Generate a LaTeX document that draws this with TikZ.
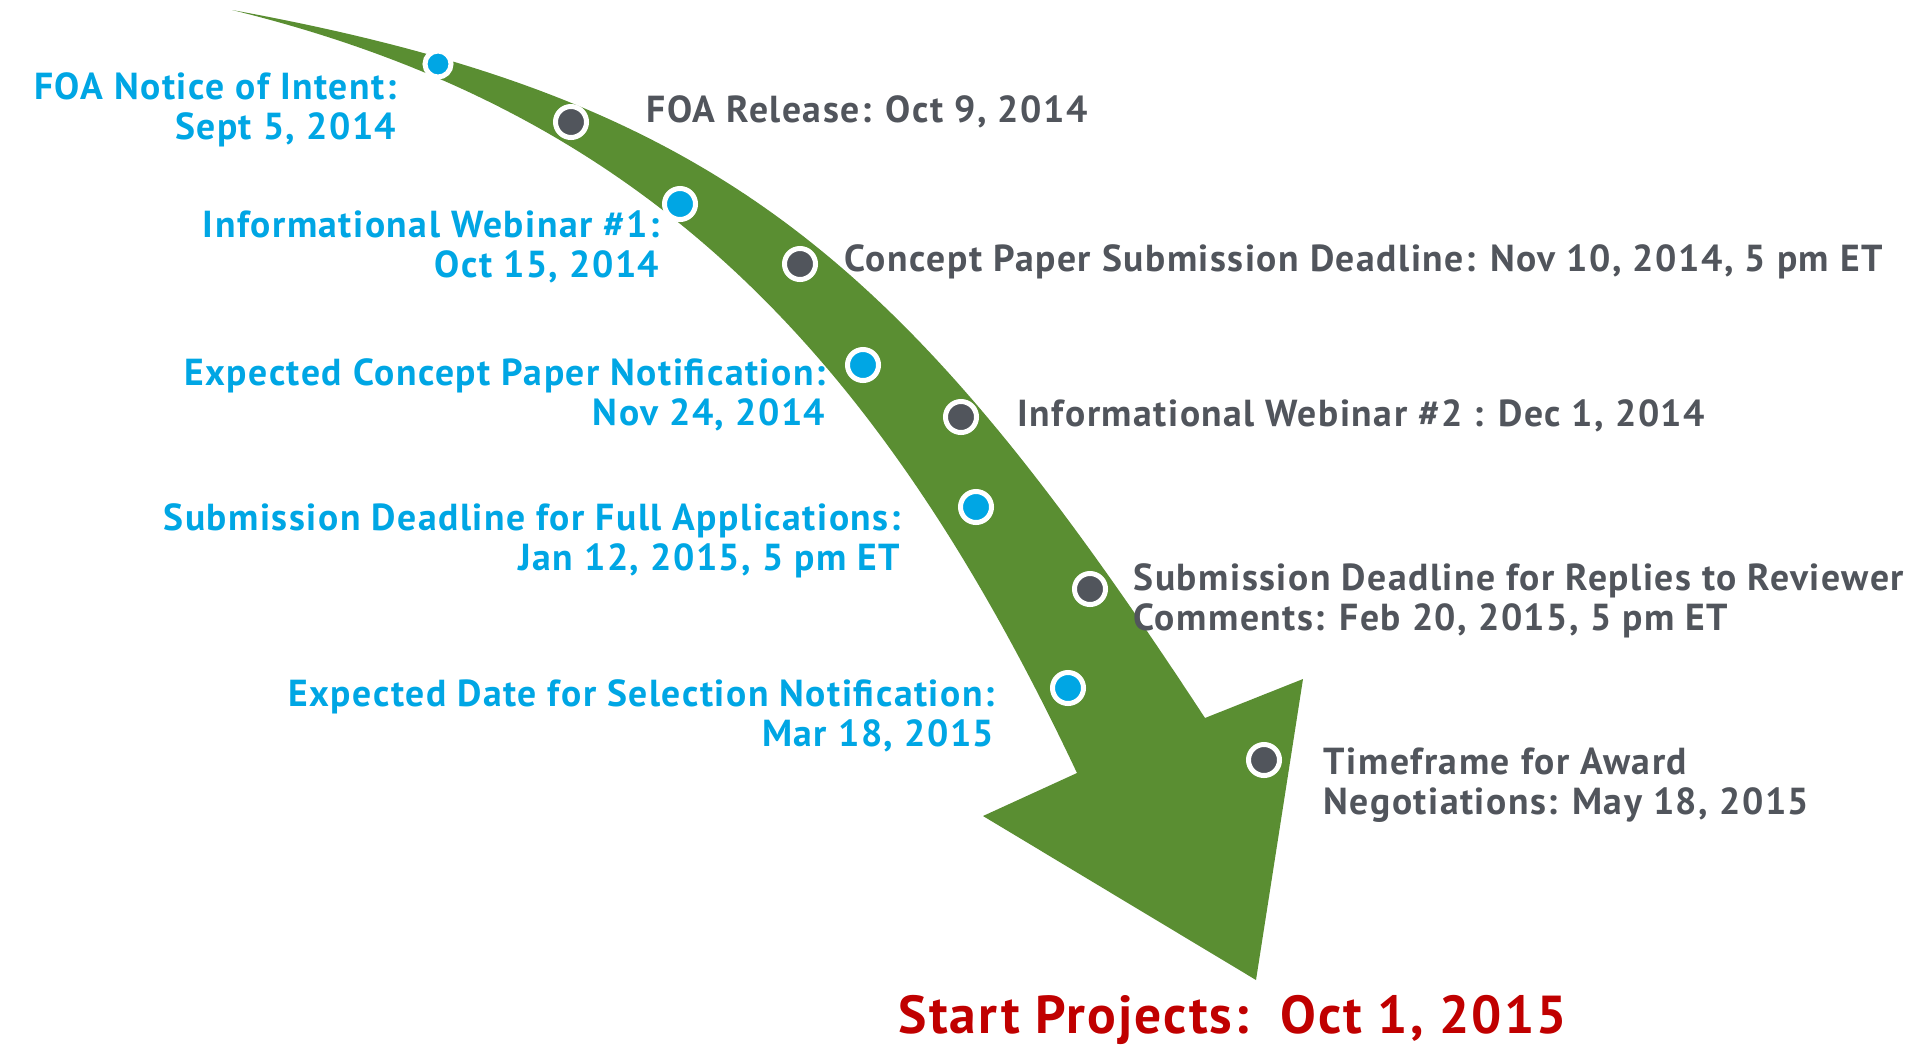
\documentclass[tikz,border=0pt]{standalone}
\usepackage{fontspec}
\setmainfont{PT Sans}
\newfontfamily\stepfont{PT Sans}[LetterSpace=4]
\usetikzlibrary{positioning}

\definecolor{arrowgreen}{RGB}{90,142,50}
\definecolor{stepblue}{RGB}{0,166,228}
\definecolor{stepgray}{RGB}{81,85,92}
\definecolor{startred}{RGB}{192,0,0}

\begin{document}
\begin{tikzpicture}[
    x=0.01cm, y=-0.01cm,
    milestone/.style={
        circle,
        fill=#1,
        draw=white,
        line width=0.05cm,
        minimum size=0.31cm,
        inner sep=0pt
    },
    blue_label/.style={
        align=right,
        inner sep=0pt,
        text=stepblue,
        font=\stepfont\bfseries\fontsize{10.7}{11.4}\selectfont
    },
    gray_label/.style={
        align=left,
        inner sep=0pt,
        text=stepgray,
        font=\stepfont\bfseries\fontsize{10.7}{11.4}\selectfont
    }
]
    \useasboundingbox (0,0) rectangle (1915,1045);

    % Curved timeline arrow
    \fill[arrowgreen] (232,10) .. controls (721,99) and (905,260) .. (1205,718)
        -- (1303,679) -- (1256,980) -- (983,816) -- (1077,773)
        .. controls (875,345) and (640,110) .. (232,10) -- cycle;

    % Milestone dots
    \node (m1) [milestone=stepblue, minimum size=0.26cm] at (438,64) {};
    \node (m2) [milestone=stepgray] at (571,122) {};
    \node (m3) [milestone=stepblue] at (680,204) {};
    \node (m4) [milestone=stepgray] at (800,264) {};
    \node (m5) [milestone=stepblue] at (863,365) {};
    \node (m6) [milestone=stepgray] at (961,417) {};
    \node (m7) [milestone=stepblue] at (976,507) {};
    \node (m8) [milestone=stepgray] at (1090,589) {};
    \node (m9) [milestone=stepblue] at (1068,688) {};
    \node (m10) [milestone=stepgray] at (1264,760) {};

    % Labels left of the arrow
    \node (notice) [blue_label, anchor=east] at (397,110) {FOA Notice of Intent:\\Sept 5, 2014};
    \node (webinar1) [blue_label, anchor=east] at (660,247) {Informational Webinar \#1:\\Oct 15, 2014};
    \node (conceptnote) [blue_label, anchor=east] at (826,395) {Expected Concept Paper Notification:\\Nov 24, 2014};
    \node (fullapp) [blue_label, anchor=east] at (901,541) {Submission Deadline for Full Applications:\\Jan 12, 2015, 5 pm ET};
    \node (selection) [blue_label, anchor=east] at (995,716) {Expected Date for Selection Notification:\\Mar 18, 2015};

    % Labels right of the arrow
    \node (release) [gray_label, anchor=mid west] at (646,114) {FOA Release: Oct 9, 2014};
    \node (concept) [gray_label, anchor=mid west] at (844,263) {Concept Paper Submission Deadline: Nov 10, 2014, 5 pm ET};
    \node (webinar2) [gray_label, anchor=mid west] at (1017,418) {Informational Webinar \#2 : Dec 1, 2014};
    \node (replies) [gray_label, anchor=west] at (1133,601) {Submission Deadline for Replies to Reviewer\\Comments: Feb 20, 2015, 5 pm ET};
    \node (award) [gray_label, anchor=west] at (1323,785) {Timeframe for Award\\Negotiations: May 18, 2015};

    % End point
    \node (start) [anchor=mid west, inner sep=0pt, text=startred, font=\stepfont\bfseries\fontsize{15.2}{16}\selectfont] at (898,1025) {Start Projects:\ \ Oct 1, 2015};

\end{tikzpicture}
\end{document}
